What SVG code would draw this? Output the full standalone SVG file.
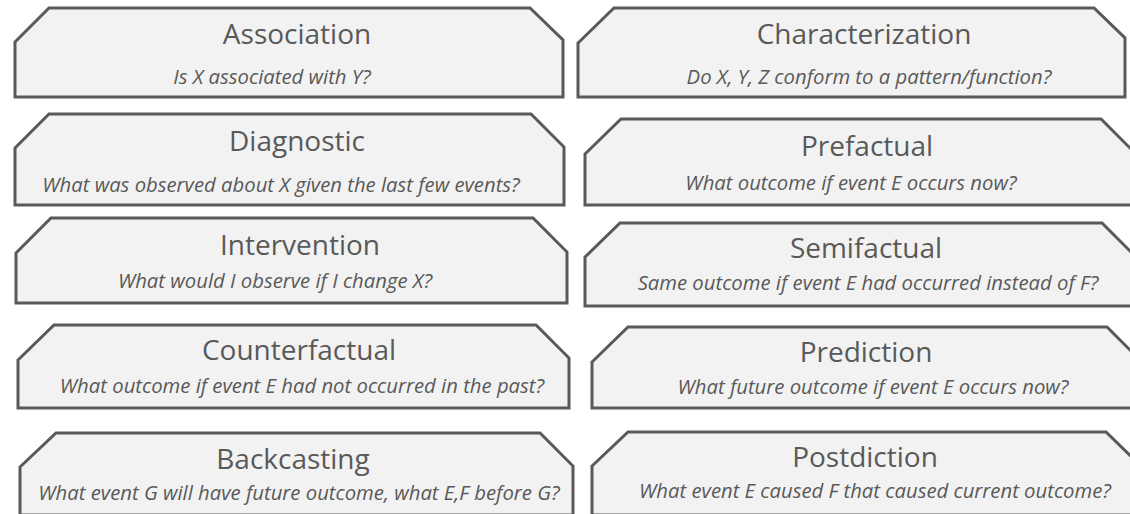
<svg xmlns="http://www.w3.org/2000/svg" width="1130" height="514" viewBox="0 0 1130 514">
  <style>
    .box { fill: #f2f2f2; stroke: #595959; stroke-width: 3; stroke-linejoin: miter; }
    .title { font-family: "Open Sans", "Liberation Sans", sans-serif; font-size: 28px; font-weight: 400; fill: #595959; text-anchor: middle; }
    .sub { font-family: "Open Sans", "Liberation Sans", sans-serif; font-size: 20.3px; font-style: italic; fill: #595959; text-anchor: middle; }
  </style>
  <rect width="1130" height="514" fill="#ffffff"/>

  <!-- left column -->
  <g id="association">
    <path class="box" d="M15,42 L49,8 L530,8 L563,40 L563,97 L15,97 Z"/>
    <text class="title" x="297" y="44">Association</text>
    <text class="sub" x="272" y="84">Is X associated with Y?</text>
  </g>
  <g id="diagnostic">
    <path class="box" d="M15,148 L49,114 L531,114 L564,147 L564,205 L15,205 Z"/>
    <text class="title" x="297" y="151">Diagnostic</text>
    <text class="sub" x="281" y="192">What was observed about X given the last few events?</text>
  </g>
  <g id="intervention">
    <path class="box" d="M16,253 L51,218 L533,218 L567,252 L567,303 L16,303 Z"/>
    <text class="title" x="300" y="255">Intervention</text>
    <text class="sub" x="275" y="288">What would I observe if I change X?</text>
  </g>
  <g id="counterfactual">
    <path class="box" d="M18,360 L54,325 L536,325 L569,358 L569,408 L18,408 Z"/>
    <text class="title" x="299" y="360">Counterfactual</text>
    <text class="sub" x="302" y="393">What outcome if event E had not occurred in the past?</text>
  </g>
  <g id="backcasting">
    <path class="box" d="M20,467 L56,433 L540,433 L573,466 L573,515 L20,515 Z"/>
    <text class="title" x="293" y="469">Backcasting</text>
    <text class="sub" x="299" y="500">What event G will have future outcome, what E,F before G?</text>
  </g>

  <!-- right column -->
  <g id="characterization">
    <path class="box" d="M578,43 L614,8 L1094,8 L1125,38 L1125,97 L578,97 Z"/>
    <text class="title" x="864" y="44">Characterization</text>
    <text class="sub" x="869" y="84">Do X, Y, Z conform to a pattern/function?</text>
  </g>
  <g id="prefactual">
    <path class="box" d="M585,154 L621,119 L1101,119 L1136,154 L1136,205 L585,205 Z"/>
    <text class="title" x="867" y="156">Prefactual</text>
    <text class="sub" x="851" y="190">What outcome if event E occurs now?</text>
  </g>
  <g id="semifactual">
    <path class="box" d="M585,257 L620,223 L1102,223 L1137,258 L1137,306 L585,306 Z"/>
    <text class="title" x="866" y="258">Semifactual</text>
    <text class="sub" x="868" y="290">Same outcome if event E had occurred instead of F?</text>
  </g>
  <g id="prediction">
    <path class="box" d="M592,362 L628,327 L1107,327 L1142,362 L1142,408 L592,408 Z"/>
    <text class="title" x="866" y="362">Prediction</text>
    <text class="sub" x="873" y="394">What future outcome if event E occurs now?</text>
  </g>
  <g id="postdiction">
    <path class="box" d="M592,466 L628,432 L1106,432 L1142,467 L1142,515 L592,515 Z"/>
    <text class="title" x="865" y="467">Postdiction</text>
    <text class="sub" x="875" y="498">What event E caused F that caused current outcome?</text>
  </g>

  <g id="connectors"></g>
</svg>
